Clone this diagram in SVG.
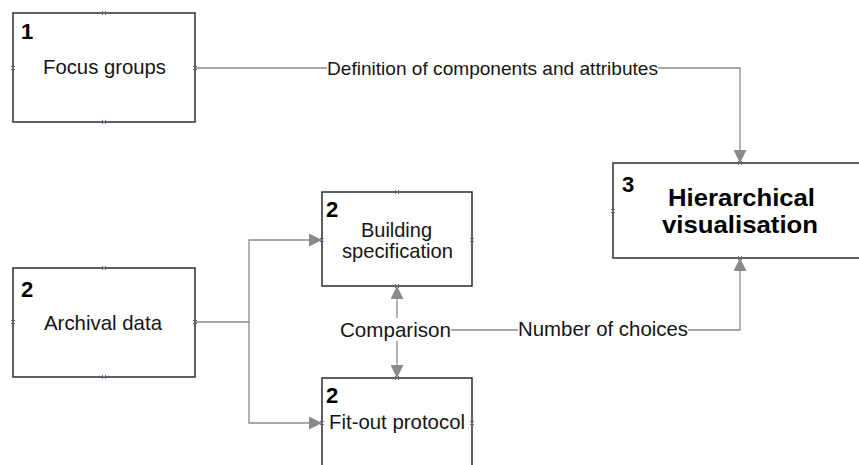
<svg xmlns="http://www.w3.org/2000/svg" width="859" height="465" viewBox="0 0 859 465">
  <style>
    .box { fill: #ffffff; stroke: #2b2b2b; stroke-width: 1.5; }
    .num { font-family: "Liberation Sans", Arial, sans-serif; font-weight: bold; font-size: 22px; fill: #000; }
    .lbl { font-family: "Liberation Sans", Arial, sans-serif; font-size: 21px; fill: #151515; text-anchor: middle; }
    .big { font-family: "Liberation Sans", Arial, sans-serif; font-weight: bold; font-size: 24px; fill: #000; text-anchor: middle; }
    .wire { fill: none; stroke: #8a8a8a; stroke-width: 1.3; }
    .tag { font-family: "Liberation Sans", Arial, sans-serif; font-size: 20px; fill: #151515; text-anchor: middle; }
    .pin { stroke: #6a6a9a; stroke-width: 1; }
  </style>
  <defs>
    <marker id="tri" viewBox="0 0 13 13" refX="13" refY="6.5" markerWidth="13" markerHeight="13" markerUnits="userSpaceOnUse" orient="auto">
      <path d="M0,0 L13,6.5 L0,13 Z" fill="#8a8a8a"/>
    </marker>
    <g id="x">
      <path class="pin" d="M-2,-2 L2,2 M-2,2 L2,-2"/>
    </g>
  </defs>

  <rect width="859" height="465" fill="#ffffff"/>

  <!-- connectors -->
  <g id="connectors">
    <!-- focus groups to hierarchical visualisation -->
    <path class="wire" d="M195,68 H327"/>
    <path class="wire" d="M658,68 H740 V163" marker-end="url(#tri)"/>
    <!-- archival data split -->
    <path class="wire" d="M195,322 H249 V240 H322" marker-end="url(#tri)"/>
    <path class="wire" d="M249,322 V423 H322" marker-end="url(#tri)"/>
    <!-- comparison between specification and protocol -->
    <path class="wire" d="M397,318 V286" marker-end="url(#tri)"/>
    <path class="wire" d="M397,341 V378" marker-end="url(#tri)"/>
    <!-- number of choices -->
    <path class="wire" d="M451,330 H518"/>
    <path class="wire" d="M688,330 H740 V258" marker-end="url(#tri)"/>
    <text class="tag" x="492.5" y="75" style="font-size:19px" textLength="331" lengthAdjust="spacingAndGlyphs">Definition of components and attributes</text>
    <text class="tag" x="395.5" y="337" style="font-size:21px" textLength="111" lengthAdjust="spacingAndGlyphs">Comparison</text>
    <text class="tag" x="603" y="336" style="font-size:21px" textLength="170" lengthAdjust="spacingAndGlyphs">Number of choices</text>
  </g>

  <!-- node 1 -->
  <g id="focus-groups">
    <rect class="box" x="13" y="13" width="182" height="109"/>
    <text class="num" x="21" y="39">1</text>
    <text class="lbl" x="104.5" y="74" textLength="123" lengthAdjust="spacingAndGlyphs">Focus groups</text>
    <use href="#x" x="104" y="13"/><use href="#x" x="104" y="122"/>
    <use href="#x" x="13" y="68"/><use href="#x" x="195" y="68"/>
  </g>

  <!-- node archival data -->
  <g id="archival-data">
    <rect class="box" x="13" y="268" width="182" height="109"/>
    <text class="num" x="21" y="297">2</text>
    <text class="lbl" x="103" y="330" textLength="118" lengthAdjust="spacingAndGlyphs">Archival data</text>
    <use href="#x" x="104" y="268"/><use href="#x" x="104" y="377"/>
    <use href="#x" x="13" y="322"/><use href="#x" x="195" y="322"/>
  </g>

  <!-- node building specification -->
  <g id="building-specification">
    <rect class="box" x="322" y="192" width="150" height="94"/>
    <text class="num" x="326" y="217">2</text>
    <text class="lbl" x="396.5" y="237" textLength="71" lengthAdjust="spacingAndGlyphs">Building</text>
    <text class="lbl" x="397.5" y="258" textLength="111" lengthAdjust="spacingAndGlyphs">specification</text>
    <use href="#x" x="397" y="192"/><use href="#x" x="397" y="286"/>
    <use href="#x" x="322" y="240"/><use href="#x" x="472" y="240"/>
  </g>

  <!-- node fit-out protocol -->
  <g id="fit-out-protocol">
    <rect class="box" x="322" y="378" width="150" height="100"/>
    <text class="num" x="326" y="403">2</text>
    <text class="lbl" x="397" y="429" textLength="136" lengthAdjust="spacingAndGlyphs">Fit-out protocol</text>
    <use href="#x" x="397" y="378"/>
    <use href="#x" x="322" y="423"/><use href="#x" x="472" y="423"/>
  </g>

  <!-- node hierarchical visualisation -->
  <g id="hierarchical-visualisation">
    <rect class="box" x="613" y="163" width="260" height="95"/>
    <text class="num" x="622" y="192">3</text>
    <text class="big" x="741.5" y="206" textLength="147" lengthAdjust="spacingAndGlyphs">Hierarchical</text>
    <text class="big" x="740" y="233" textLength="156" lengthAdjust="spacingAndGlyphs">visualisation</text>
    <use href="#x" x="740" y="163"/><use href="#x" x="740" y="258"/>
    <use href="#x" x="613" y="211"/>
  </g>
</svg>
